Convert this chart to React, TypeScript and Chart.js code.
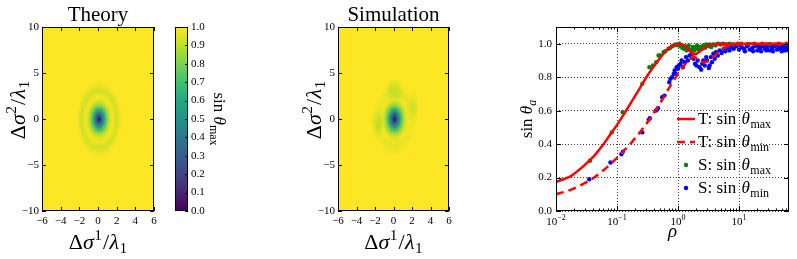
import React, { useEffect, useRef } from 'react';
import { Chart, registerables } from 'chart.js';

Chart.register(...registerables);

const FONT = '"Liberation Serif", "DejaVu Serif", serif';

// ---------- heatmap data (percent of sin theta_max) ----------
const HM_X = [-2.3, -2.0, -1.7, -1.4, -1.1, -0.8, -0.5, -0.2, 0.1, 0.4, 0.7, 1.0, 1.3, 1.6, 1.9, 2.2, 2.5];
const HM_Y = [4, 3.5, 3, 2.5, 2, 1.5, 1, 0.5, 0, -0.5, -1, -1.5, -2, -2.5, -3, -3.5, -4];

const THEORY_MAP = [
  [100, 100, 100, 100, 100, 100, 100, 99, 99, 99, 100, 100, 100, 100, 100, 100, 100],
  [100, 100, 100, 100, 100, 98, 97, 96, 95, 96, 97, 98, 100, 100, 100, 100, 100],
  [100, 100, 100, 99, 97, 94, 93, 93, 93, 93, 93, 94, 97, 99, 100, 100, 100],
  [100, 100, 99, 96, 93, 94, 97, 99, 99, 99, 97, 94, 93, 96, 99, 100, 100],
  [100, 100, 97, 93, 95, 99, 98, 96, 95, 96, 98, 99, 95, 93, 97, 100, 100],
  [100, 99, 94, 94, 99, 97, 91, 86, 84, 86, 91, 97, 99, 94, 94, 99, 100],
  [100, 98, 93, 97, 98, 90, 79, 66, 60, 66, 79, 90, 98, 97, 93, 98, 100],
  [100, 96, 93, 99, 95, 85, 66, 42, 28, 42, 66, 85, 95, 99, 93, 96, 100],
  [100, 96, 93, 99, 95, 83, 60, 30, 2, 30, 60, 83, 95, 99, 93, 96, 100],
  [100, 96, 93, 99, 95, 85, 66, 42, 28, 42, 66, 85, 95, 99, 93, 96, 100],
  [100, 98, 93, 97, 98, 90, 79, 66, 60, 66, 79, 90, 98, 97, 93, 98, 100],
  [100, 99, 94, 94, 99, 97, 91, 86, 84, 86, 91, 97, 99, 94, 94, 99, 100],
  [100, 100, 97, 93, 95, 99, 98, 96, 95, 96, 98, 99, 95, 93, 97, 100, 100],
  [100, 100, 99, 96, 93, 94, 97, 99, 99, 99, 97, 94, 93, 96, 99, 100, 100],
  [100, 100, 100, 99, 97, 94, 93, 93, 93, 93, 93, 94, 97, 99, 100, 100, 100],
  [100, 100, 100, 100, 100, 98, 97, 96, 95, 96, 97, 98, 100, 100, 100, 100, 100],
  [100, 100, 100, 100, 100, 100, 100, 99, 99, 99, 100, 100, 100, 100, 100, 100, 100],
];

const SIM_MAP = [
  [100, 100, 100, 100, 100, 100, 99, 97, 96, 97, 99, 100, 100, 100, 100, 100, 100],
  [100, 100, 100, 100, 100, 99, 96, 93, 92, 93, 96, 99, 100, 100, 100, 100, 100],
  [100, 100, 100, 100, 99, 97, 93, 91, 90, 91, 93, 96, 99, 100, 100, 99, 100],
  [100, 100, 100, 99, 97, 96, 95, 93, 92, 93, 94, 96, 97, 98, 98, 97, 99],
  [100, 100, 99, 98, 97, 99, 98, 96, 95, 96, 97, 99, 97, 96, 95, 95, 98],
  [100, 99, 98, 97, 99, 97, 91, 86, 83, 86, 91, 97, 99, 96, 94, 93, 97],
  [100, 99, 97, 96, 98, 90, 79, 66, 58, 66, 79, 90, 98, 97, 94, 93, 97],
  [99, 97, 94, 95, 95, 85, 66, 42, 26, 42, 66, 85, 95, 98, 96, 95, 98],
  [98, 95, 91, 92, 95, 83, 60, 30, 2, 30, 60, 83, 95, 98, 97, 97, 99],
  [98, 94, 90, 91, 95, 85, 66, 42, 28, 42, 66, 85, 95, 98, 98, 98, 100],
  [99, 95, 91, 93, 97, 90, 79, 66, 60, 66, 79, 90, 98, 98, 98, 99, 100],
  [100, 97, 94, 95, 99, 97, 91, 86, 84, 86, 91, 97, 99, 98, 99, 100, 100],
  [100, 99, 98, 97, 97, 99, 98, 96, 95, 96, 98, 99, 97, 97, 99, 100, 100],
  [100, 100, 99, 99, 97, 96, 97, 98, 98, 98, 97, 96, 97, 98, 100, 100, 100],
  [100, 100, 100, 100, 99, 98, 97, 96, 96, 96, 97, 98, 99, 100, 100, 100, 100],
  [100, 100, 100, 100, 100, 99, 99, 98, 98, 98, 99, 99, 100, 100, 100, 100, 100],
  [100, 100, 100, 100, 100, 100, 100, 100, 100, 100, 100, 100, 100, 100, 100, 100, 100],
];

const MAP_X_TICKS = [-6, -4, -2, 0, 2, 4, 6];
const MAP_Y_TICKS = [-10, -5, 0, 5, 10];
const CBAR_TICKS = [0, 0.1, 0.2, 0.3, 0.4, 0.5, 0.6, 0.7, 0.8, 0.9, 1.0];

// ---------- right panel data ----------
const RHO_T = [0.01, 0.0133, 0.0178, 0.0237, 0.0316, 0.0422, 0.0562, 0.075, 0.1, 0.133, 0.178, 0.237, 0.316, 0.422, 0.562, 0.75, 1.0, 1.2, 1.4, 1.6, 1.8, 2.0, 2.3, 2.6, 3.0, 3.5, 4.2, 5.0, 6.0, 7.5, 10, 15, 25, 40, 66];
const T_MAX = [0.174, 0.19, 0.21, 0.245, 0.285, 0.33, 0.385, 0.45, 0.515, 0.585, 0.66, 0.735, 0.81, 0.875, 0.935, 0.98, 1.0, 0.995, 0.975, 0.952, 0.937, 0.94, 0.955, 0.97, 0.985, 0.995, 1.0, 1.0, 1.0, 1.0, 1.0, 1.0, 1.0, 1.0, 1.0];
const T_MIN = [0.10, 0.113, 0.128, 0.148, 0.173, 0.2, 0.235, 0.275, 0.318, 0.365, 0.415, 0.47, 0.53, 0.6, 0.67, 0.75, 0.82, 0.86, 0.89, 0.91, 0.92, 0.915, 0.9, 0.89, 0.895, 0.91, 0.935, 0.96, 0.98, 0.99, 1.0, 1.0, 1.0, 1.0, 1.0];

const S_MAX: [number, number][] = [
  [0.036, 0.30], [0.082, 0.47], [0.124, 0.59], [0.26, 0.76], [0.34, 0.86], [0.39, 0.87], [0.44, 0.89], [0.48, 0.93],
  [0.51, 0.93], [0.58, 0.95], [0.62, 0.955], [0.7, 0.97], [0.74, 0.975], [0.8, 0.985], [0.86, 0.99], [0.92, 0.995],
  [1.0, 0.99], [1.05, 1.0], [1.1, 0.985], [1.18, 0.975], [1.25, 0.97], [1.3, 0.985], [1.38, 0.96], [1.45, 0.975],
  [1.5, 0.99], [1.6, 0.965], [1.7, 0.955], [1.75, 0.98], [1.85, 0.96], [1.95, 0.975], [2.05, 0.99], [2.15, 0.965],
  [2.3, 0.98], [2.45, 0.97], [2.6, 0.99], [2.75, 0.975], [2.9, 0.995], [3.1, 0.985], [3.3, 0.995], [3.5, 0.98],
  [3.8, 0.995], [4.1, 0.99], [4.5, 1.0], [5.0, 0.995], [5.5, 1.0], [6.2, 0.995], [7, 1.0], [8, 0.995], [9.5, 1.0],
  [11, 1.0], [14, 0.998], [18, 1.0], [24, 1.0], [32, 0.998], [45, 1.0], [60, 1.0],
];

const S_MIN: [number, number][] = [
  [0.035, 0.19], [0.078, 0.29], [0.118, 0.34], [0.125, 0.355], [0.26, 0.47], [0.33, 0.545], [0.345, 0.555], [0.43, 0.6],
  [0.45, 0.605], [0.47, 0.615], [0.55, 0.68], [0.6, 0.69], [0.72, 0.77], [0.75, 0.79], [0.8, 0.8], [0.85, 0.82],
  [0.88, 0.84], [0.92, 0.82], [0.95, 0.86], [1.0, 0.85], [1.03, 0.87], [1.1, 0.88], [1.15, 0.9], [1.2, 0.86],
  [1.3, 0.89], [1.35, 0.92], [1.45, 0.9], [1.55, 0.93], [1.7, 0.94], [1.8, 0.91], [1.9, 0.88], [2.0, 0.87],
  [2.1, 0.9], [2.25, 0.86], [2.4, 0.845], [2.5, 0.88], [2.6, 0.9], [2.75, 0.87], [2.9, 0.92], [3.0, 0.9],
  [3.2, 0.855], [3.3, 0.87], [3.45, 0.92], [3.6, 0.89], [3.8, 0.94], [4.0, 0.91], [4.2, 0.95], [4.5, 0.93],
  [4.8, 0.96], [5.2, 0.945], [5.6, 0.97], [6.0, 0.955], [6.5, 0.975], [7.0, 0.96], [7.6, 0.98], [8.2, 0.97],
  [9, 0.985], [10, 0.965], [10.5, 0.99], [11, 0.98], [12, 0.97], [12.5, 0.955], [13.5, 0.985], [14, 0.99],
  [15, 0.965], [16.5, 0.975], [17, 0.955], [18, 0.985], [19, 0.99], [20, 0.96], [21, 0.985], [22, 0.975],
  [23, 0.955], [24, 0.985], [25, 0.99], [26.5, 0.97], [28, 0.96], [29, 0.98], [30, 0.99], [32, 0.96],
  [34, 0.985], [35, 0.975], [36, 0.955], [38, 0.985], [40, 0.99], [42, 0.965], [44, 0.985], [46, 0.975],
  [48, 0.97], [50, 0.955], [52, 0.99], [54, 0.98], [56, 0.96], [58, 0.97], [60, 0.99], [62, 0.985], [64, 0.96], [65, 0.97],
];

const RHO_TICKS = [0.01, 0.1, 1, 10];
const RHO_EXP = ['\u22122', '\u22121', '0', '1'];
const SIN_TICKS = [0, 0.2, 0.4, 0.6, 0.8, 1.0];

// ---------- helpers ----------
const VIRIDIS = ['#440154', '#482475', '#414487', '#355f8d', '#2a788e', '#21918c', '#22a884', '#44bf70', '#7ad151', '#bddf26', '#fde725'];
const hex = (h: string) => [parseInt(h.slice(1, 3), 16), parseInt(h.slice(3, 5), 16), parseInt(h.slice(5, 7), 16)];
function viridis(t: number): number[] {
  const c = Math.max(0, Math.min(1, t)) * 10;
  const i = Math.min(9, Math.floor(c));
  const f = c - i;
  const a = hex(VIRIDIS[i]);
  const b = hex(VIRIDIS[i + 1]);
  return [0, 1, 2].map((k) => Math.round(a[k] + (b[k] - a[k]) * f));
}

type Part = { t: string; size: number; dy?: number; italic?: boolean; gap?: number };

function drawRich(ctx: CanvasRenderingContext2D, parts: Part[], x: number, y: number, align: 'left' | 'center' | 'right' = 'center', rot = 0) {
  ctx.save();
  ctx.translate(x, y);
  if (rot) ctx.rotate(rot);
  ctx.textAlign = 'left';
  ctx.textBaseline = 'alphabetic';
  ctx.fillStyle = '#000';
  const fonts = parts.map((p) => `${p.italic ? 'italic ' : ''}${p.size}px ${FONT}`);
  const widths = parts.map((p, i) => {
    ctx.font = fonts[i];
    return ctx.measureText(p.t).width + (p.gap || 0);
  });
  const total = widths.reduce((a, b) => a + b, 0);
  let cx = align === 'center' ? -total / 2 : align === 'right' ? -total : 0;
  parts.forEach((p, i) => {
    ctx.font = fonts[i];
    ctx.fillText(p.t, cx, p.dy || 0);
    cx += widths[i];
  });
  ctx.restore();
}

const fixW = (w: number) => (s: any) => {
  s.width = w;
  s.paddingLeft = 0; s.paddingRight = 0; s.paddingTop = 0; s.paddingBottom = 0;
};
const fixH = (h: number) => (s: any) => {
  s.height = h;
  s.paddingLeft = 0; s.paddingRight = 0; s.paddingTop = 0; s.paddingBottom = 0;
};
const setTicks = (vals: number[]) => (s: any) => {
  s.ticks = vals.map((v) => ({ value: v }));
};
const fmtMinus = (v: any) => {
  const n = Number(v);
  return n < 0 ? '\u2212' + Math.abs(n) : String(n);
};

function frame(chart: any) {
  const { ctx, chartArea: a } = chart;
  ctx.save();
  ctx.strokeStyle = '#000';
  ctx.lineWidth = 1;
  ctx.strokeRect(a.left + 0.5, a.top + 0.5, a.right - a.left - 1, a.bottom - a.top - 1);
  ctx.restore();
}

function ticksX(chart: any, vals: number[], len: number) {
  const { ctx, chartArea: a } = chart;
  const s = chart.scales.x;
  ctx.save();
  ctx.strokeStyle = '#000';
  ctx.lineWidth = 1;
  ctx.beginPath();
  vals.forEach((v) => {
    const p = Math.round(s.getPixelForValue(v)) + 0.5;
    ctx.moveTo(p, a.bottom);
    ctx.lineTo(p, a.bottom - len);
    ctx.moveTo(p, a.top);
    ctx.lineTo(p, a.top + len);
  });
  ctx.stroke();
  ctx.restore();
}

function ticksY(chart: any, vals: number[], len: number, left = true, right = true) {
  const { ctx, chartArea: a } = chart;
  const s = chart.scales.y;
  ctx.save();
  ctx.strokeStyle = '#000';
  ctx.lineWidth = 1;
  ctx.beginPath();
  vals.forEach((v) => {
    const p = Math.round(s.getPixelForValue(v)) + 0.5;
    if (left) {
      ctx.moveTo(a.left, p);
      ctx.lineTo(a.left + len, p);
    }
    if (right) {
      ctx.moveTo(a.right, p);
      ctx.lineTo(a.right - len, p);
    }
  });
  ctx.stroke();
  ctx.restore();
}

const tickFont = { family: FONT, size: 11 };

function heatmapPlugin(map: number[][]) {
  return {
    id: 'heatmap',
    beforeDatasetsDraw(chart: any) {
      const { ctx, chartArea: a, scales } = chart;
      ctx.save();
      ctx.beginPath();
      ctx.rect(a.left, a.top, a.right - a.left, a.bottom - a.top);
      ctx.clip();
      const top = viridis(1);
      ctx.fillStyle = `rgb(${top[0]},${top[1]},${top[2]})`;
      ctx.fillRect(a.left, a.top, a.right - a.left, a.bottom - a.top);
      const nx = HM_X.length;
      const ny = HM_Y.length;
      const off = document.createElement('canvas');
      off.width = nx;
      off.height = ny;
      const octx = off.getContext('2d')!;
      const img = octx.createImageData(nx, ny);
      for (let j = 0; j < ny; j++) {
        for (let i = 0; i < nx; i++) {
          const c = viridis(map[j][i] / 100);
          const k = (j * nx + i) * 4;
          img.data[k] = c[0];
          img.data[k + 1] = c[1];
          img.data[k + 2] = c[2];
          img.data[k + 3] = 255;
        }
      }
      octx.putImageData(img, 0, 0);
      const dx = HM_X[1] - HM_X[0];
      const dy = HM_Y[0] - HM_Y[1];
      const x0 = scales.x.getPixelForValue(HM_X[0] - dx / 2);
      const x1 = scales.x.getPixelForValue(HM_X[nx - 1] + dx / 2);
      const y0 = scales.y.getPixelForValue(HM_Y[0] + dy / 2);
      const y1 = scales.y.getPixelForValue(HM_Y[ny - 1] - dy / 2);
      ctx.imageSmoothingEnabled = true;
      ctx.drawImage(off, x0, y0, x1 - x0, y1 - y0);
      ctx.restore();
    },
  };
}

const labelParts = (sup: string, size: number): Part[] => [
  { t: '\u0394', size },
  { t: '\u03c3', size, italic: true, gap: 0.5 },
  { t: sup, size: size * 0.7, dy: -size * 0.4, gap: 1 },
  { t: '/', size, gap: 0.5 },
  { t: '\u03bb', size, italic: true, gap: 0.5 },
  { t: '1', size: size * 0.7, dy: size * 0.2 },
];

function mapConfig(map: number[][], title: string, offX: number, canvasW: number, plotL: number, plotR: number, ylabX: number): any {
  const cx = (plotL + plotR) / 2;
  return {
    type: 'scatter',
    data: { datasets: [] },
    options: {
      responsive: false,
      animation: false,
      devicePixelRatio: 1,
      layout: { padding: { left: 0, right: offX + canvasW - plotR, top: 27, bottom: 0 } },
      plugins: { legend: { display: false }, tooltip: { enabled: false }, title: { display: false } },
      scales: {
        x: {
          type: 'linear',
          min: -6,
          max: 6,
          afterBuildTicks: setTicks(MAP_X_TICKS),
          afterFit: fixH(48),
          grid: { display: false, drawTicks: false },
          border: { display: false },
          ticks: { font: tickFont, color: '#000', padding: 4, maxRotation: 0, minRotation: 0, autoSkip: false, callback: fmtMinus },
        },
        y: {
          type: 'linear',
          min: -10,
          max: 10,
          afterBuildTicks: setTicks(MAP_Y_TICKS),
          afterFit: fixW(plotL - offX),
          grid: { display: false, drawTicks: false },
          border: { display: false },
          ticks: { font: tickFont, color: '#000', padding: 3, autoSkip: false, callback: fmtMinus },
        },
      },
    },
    plugins: [
      heatmapPlugin(map),
      {
        id: 'decor',
        afterDraw(chart: any) {
          const ctx = chart.ctx;
          frame(chart);
          ticksX(chart, MAP_X_TICKS, 4);
          ticksY(chart, MAP_Y_TICKS, 4);
          drawRich(ctx, [{ t: title, size: 21 }], cx - offX, 21);
          drawRich(ctx, labelParts('1', 22), cx - offX, 249);
          drawRich(ctx, labelParts('2', 22), ylabX - offX, 110, 'center', -Math.PI / 2);
        },
      },
    ],
  };
}

function cbarConfig(offX: number, canvasW: number, plotL: number, plotR: number): any {
  return {
    type: 'scatter',
    data: { datasets: [] },
    options: {
      responsive: false,
      animation: false,
      devicePixelRatio: 1,
      layout: { padding: { left: plotL - offX, right: 0, top: 27, bottom: 48 } },
      plugins: { legend: { display: false }, tooltip: { enabled: false } },
      scales: {
        x: { display: false, min: 0, max: 1 },
        y: {
          position: 'right',
          min: 0,
          max: 1,
          afterBuildTicks: setTicks(CBAR_TICKS),
          afterFit: fixW(offX + canvasW - plotR),
          grid: { display: false, drawTicks: false },
          border: { display: false },
          ticks: { font: tickFont, color: '#000', padding: 3, autoSkip: false, callback: (v: any) => Number(v).toFixed(1) },
        },
      },
    },
    plugins: [
      {
        id: 'cbar',
        beforeDatasetsDraw(chart: any) {
          const { ctx, chartArea: a } = chart;
          const s = chart.scales.y;
          const g = ctx.createLinearGradient(0, s.getPixelForValue(0), 0, s.getPixelForValue(1));
          VIRIDIS.forEach((c, i) => g.addColorStop(i / 10, c));
          ctx.save();
          ctx.fillStyle = g;
          ctx.fillRect(a.left, a.top, a.right - a.left, a.bottom - a.top);
          ctx.restore();
        },
        afterDraw(chart: any) {
          frame(chart);
          ticksY(chart, CBAR_TICKS, 3, false, true);
          drawRich(
            chart.ctx,
            [
              { t: 'sin ', size: 17 },
              { t: '\u03b8', size: 17, italic: true },
              { t: 'max', size: 12, dy: 4 },
            ],
            214 - offX,
            119,
            'center',
            Math.PI / 2
          );
        },
      },
    ],
  };
}

function rhoConfig(offX: number, canvasW: number, plotL: number, plotR: number): any {
  const minor: number[] = [];
  [0.01, 0.1, 1, 10].forEach((d) => {
    for (let k = 2; k <= 9; k++) if (d * k <= 66) minor.push(d * k);
  });
  const gridStyle = { color: 'rgba(0,0,0,0.75)', lineWidth: 1, drawTicks: false };
  return {
    type: 'scatter',
    data: {
      datasets: [
        {
          label: 'T: sin θmax',
          data: RHO_T.map((r, i) => ({ x: r, y: T_MAX[i] })),
          showLine: true,
          borderColor: '#ff0000',
          borderWidth: 2.5,
          pointRadius: 0,
          cubicInterpolationMode: 'monotone',
          order: 0,
        },
        {
          label: 'T: sin θmin',
          data: RHO_T.map((r, i) => ({ x: r, y: T_MIN[i] })),
          showLine: true,
          borderColor: '#ff0000',
          borderWidth: 2.5,
          borderDash: [8, 5],
          pointRadius: 0,
          cubicInterpolationMode: 'monotone',
          order: 1,
        },
        {
          label: 'S: sin θmax',
          data: S_MAX.map(([x, y]) => ({ x, y })),
          pointRadius: 2.2,
          pointBorderWidth: 0,
          backgroundColor: '#008000',
          borderColor: '#008000',
          order: 2,
        },
        {
          label: 'S: sin θmin',
          data: S_MIN.map(([x, y]) => ({ x, y })),
          pointRadius: 2.2,
          pointBorderWidth: 0,
          backgroundColor: '#0000ff',
          borderColor: '#0000ff',
          order: 3,
        },
      ],
    },
    options: {
      responsive: false,
      animation: false,
      devicePixelRatio: 1,
      layout: { padding: { left: 0, right: offX + canvasW - plotR, top: 27, bottom: 0 } },
      plugins: { legend: { display: false }, tooltip: { enabled: false } },
      scales: {
        x: {
          type: 'logarithmic',
          min: 0.01,
          max: 66,
          afterBuildTicks: setTicks(RHO_TICKS),
          afterFit: fixH(48),
          grid: gridStyle,
          border: { display: false, dash: [1, 2] },
          ticks: { display: false },
        },
        y: {
          type: 'linear',
          min: 0,
          max: 1.1,
          afterBuildTicks: setTicks(SIN_TICKS),
          afterFit: fixW(plotL - offX),
          grid: gridStyle,
          border: { display: false, dash: [1, 2] },
          ticks: { font: tickFont, color: '#000', padding: 4, autoSkip: false, callback: (v: any) => Number(v).toFixed(1) },
        },
      },
    },
    plugins: [
      {
        id: 'decor',
        afterDraw(chart: any) {
          const ctx = chart.ctx;
          const sx = chart.scales.x;
          frame(chart);
          ticksX(chart, RHO_TICKS, 5);
          ticksX(chart, minor, 2.5);
          ticksY(chart, SIN_TICKS, 5);
          RHO_TICKS.forEach((v, i) => {
            drawRich(ctx, [{ t: '10', size: 11 }, { t: RHO_EXP[i], size: 8, dy: -5 }], sx.getPixelForValue(v), 225);
          });
          drawRich(ctx, [{ t: '\u03c1', size: 19, italic: true }], (plotL + plotR) / 2 - offX, 237);
          drawRich(
            ctx,
            [
              { t: 'sin ', size: 17 },
              { t: '\u03b8', size: 17, italic: true },
              { t: 'a', size: 12, dy: 4, italic: true },
            ],
            532 - offX,
            119,
            'center',
            -Math.PI / 2
          );
          // legend
          const lx0 = 677 - offX;
          const lx1 = 695 - offX;
          const tx = 698 - offX;
          const rows = [119, 142, 165, 188];
          ctx.save();
          ctx.strokeStyle = '#ff0000';
          ctx.lineWidth = 2.5;
          ctx.beginPath();
          ctx.moveTo(lx0, rows[0]);
          ctx.lineTo(lx1, rows[0]);
          ctx.stroke();
          ctx.setLineDash([8, 5]);
          ctx.beginPath();
          ctx.moveTo(lx0, rows[1]);
          ctx.lineTo(lx1, rows[1]);
          ctx.stroke();
          ctx.setLineDash([]);
          ctx.fillStyle = '#008000';
          ctx.beginPath();
          ctx.arc((lx0 + lx1) / 2, rows[2], 2.2, 0, Math.PI * 2);
          ctx.fill();
          ctx.fillStyle = '#0000ff';
          ctx.beginPath();
          ctx.arc((lx0 + lx1) / 2, rows[3], 2.2, 0, Math.PI * 2);
          ctx.fill();
          ctx.restore();
          const entry = (p: string, sub: string): Part[] => [
            { t: p + ': sin ', size: 17, gap: 1 },
            { t: '\u03b8', size: 17, italic: true, gap: 0.5 },
            { t: sub, size: 12, dy: 4 },
          ];
          drawRich(ctx, entry('T', 'max'), tx, rows[0] + 5, 'left');
          drawRich(ctx, entry('T', 'min'), tx, rows[1] + 5, 'left');
          drawRich(ctx, entry('S', 'max'), tx, rows[2] + 5, 'left');
          drawRich(ctx, entry('S', 'min'), tx, rows[3] + 5, 'left');
        },
      },
    ],
  };
}

const PANELS = [
  { left: 0, width: 165 },
  { left: 165, width: 80 },
  { left: 250, width: 215 },
  { left: 470, width: 327 },
];

export default function App() {
  const r0 = useRef<HTMLCanvasElement>(null);
  const r1 = useRef<HTMLCanvasElement>(null);
  const r2 = useRef<HTMLCanvasElement>(null);
  const r3 = useRef<HTMLCanvasElement>(null);

  useEffect(() => {
    const charts = [
      new Chart(r0.current!, mapConfig(THEORY_MAP, 'Theory', 0, 165, 42, 154, 25)),
      new Chart(r1.current!, cbarConfig(165, 80, 175, 188)),
      new Chart(r2.current!, mapConfig(SIM_MAP, 'Simulation', 250, 215, 338, 449, 321)),
      new Chart(r3.current!, rhoConfig(470, 327, 556, 789)),
    ];
    return () => charts.forEach((c) => c.destroy());
  }, []);

  const refs = [r0, r1, r2, r3];
  return (
    <div style={{ position: 'fixed', left: 0, top: 0, width: 797, height: 259, background: '#fff', overflow: 'hidden' }}>
      {PANELS.map((p, i) => (
        <canvas
          key={i}
          ref={refs[i]}
          width={p.width}
          height={259}
          style={{ position: 'absolute', left: p.left, top: 0, width: p.width, height: 259 }}
        />
      ))}
    </div>
  );
}
